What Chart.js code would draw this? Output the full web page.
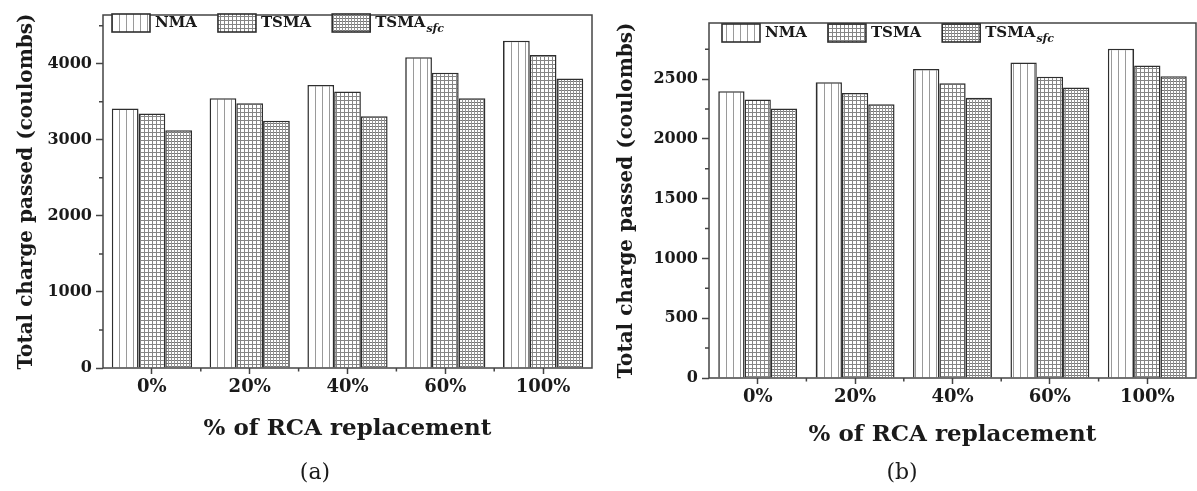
<!DOCTYPE html>
<html>
<head>
<meta charset="utf-8">
<script src="https://cdn.jsdelivr.net/npm/chart.js@4.4.0/dist/chart.umd.min.js"></script>
<style>
  body { margin: 0; background: #fff; }
  .panel { position: absolute; top: 0; height: 491px; }
  #panelA { left: 0; width: 600px; }
  #panelB { left: 600px; width: 597px; }
  .caption { position: absolute; top: 459px; font: 22px "DejaVu Serif", serif; color: #1a1a1a; transform: translateX(-50%); }
</style>
</head>
<body>
<div class="panel" id="panelA"><canvas id="chartA"></canvas></div>
<div class="panel" id="panelB"><canvas id="chartB"></canvas></div>
<div class="caption" style="left:315px">(a)</div>
<div class="caption" style="left:902px">(b)</div>
<script>
const categories = ['0%', '20%', '40%', '60%', '100%'];
const seriesNames = ['NMA', 'TSMA', 'TSMA'];
const seriesSub = ['', '', 'sfc'];

// panel (a)
const nmaA = [3410, 3545, 3720, 4085, 4300];
const tsmaA = [3345, 3480, 3635, 3880, 4115];
const sfcA = [3125, 3250, 3310, 3545, 3805];
const ticksA = [0, 1000, 2000, 3000, 4000];

// panel (b)
const nmaB = [2400, 2475, 2585, 2640, 2755];
const tsmaB = [2330, 2385, 2465, 2520, 2615];
const sfcB = [2255, 2290, 2345, 2430, 2525];
const ticksB = [0, 500, 1000, 1500, 2000, 2500];

const ink = '#1a1a1a';
const lineCol = '#444';
Chart.defaults.font.family = '"DejaVu Serif", serif';
Chart.defaults.color = ink;

// hatch fills for the three mixes
function tile(ctx, size, draw) {
  const c = document.createElement('canvas');
  c.width = size; c.height = size;
  const g = c.getContext('2d');
  g.fillStyle = '#fff';
  g.fillRect(0, 0, size, size);
  draw(g, size);
  return ctx.createPattern(c, 'repeat');
}
function fills(ctx) {
  return [
    tile(ctx, 7, (g, s) => { g.fillStyle = '#9a9a9a'; g.fillRect(0, 0, 1, s); }),
    tile(ctx, 4, (g, s) => { g.fillStyle = '#858585'; g.fillRect(0, 0, 1, s); g.fillRect(0, 0, s, 1); }),
    tile(ctx, 3, (g, s) => { g.fillStyle = '#747474'; g.fillRect(0, 0, s, 1); g.fillStyle = '#949494'; g.fillRect(0, 0, 1, s); })
  ];
}

// box around the plot plus the minor ticks
const frame = {
  id: 'frame',
  afterDatasetsDraw(chart) {
    const {ctx, chartArea: a} = chart;
    const x = chart.scales.x, y = chart.scales.y;
    ctx.save();
    ctx.strokeStyle = lineCol;
    ctx.lineWidth = 1.5;
    ctx.strokeRect(a.left, a.top, a.right - a.left, a.bottom - a.top);
    ctx.beginPath();
    const step = y.ticks[1].value - y.ticks[0].value;
    for (let v = step / 2; v < y.max; v += step) {
      const py = y.getPixelForValue(v);
      ctx.moveTo(a.left - 4, py);
      ctx.lineTo(a.left, py);
    }
    for (let i = 0; i < categories.length - 1; i++) {
      const px = (x.getPixelForValue(i) + x.getPixelForValue(i + 1)) / 2;
      ctx.moveTo(px, a.bottom);
      ctx.lineTo(px, a.bottom + 3.5);
    }
    ctx.stroke();
    ctx.restore();
  }
};

// legend row inside the top of the plot, with the subscript on TSMA_sfc
const hatchLegend = {
  id: 'hatchLegend',
  afterDraw(chart, args, o) {
    const {ctx, chartArea: a} = chart;
    const top = a.top + o.dy;
    let x = a.left + o.inset;
    ctx.save();
    ctx.textBaseline = 'middle';
    chart.data.datasets.forEach((ds, i) => {
      ctx.fillStyle = ds.backgroundColor;
      ctx.fillRect(x, top, 38, 18);
      ctx.strokeStyle = '#2e2e2e';
      ctx.lineWidth = 1.6;
      ctx.strokeRect(x, top, 38, 18);
      x += 38 + 5;
      ctx.fillStyle = ink;
      ctx.font = 'bold 15px "DejaVu Serif"';
      ctx.fillText(seriesNames[i], x, top + 9);
      x += ctx.measureText(seriesNames[i]).width;
      if (seriesSub[i]) {
        ctx.font = 'italic bold 11px "DejaVu Serif"';
        ctx.fillText(seriesSub[i], x + 1, top + 15);
        x += ctx.measureText(seriesSub[i]).width + 1;
      }
      x += 21;
    });
    ctx.restore();
  }
};

function build(id, series, yMax, yTicks, geo) {
  const ctx = document.getElementById(id).getContext('2d');
  const pats = fills(ctx);
  return new Chart(ctx, {
    type: 'bar',
    data: {
      labels: categories,
      datasets: series.map((d, i) => ({
        label: seriesNames[i] + seriesSub[i],
        data: d,
        backgroundColor: pats[i]
      }))
    },
    options: {
      responsive: true,
      maintainAspectRatio: false,
      animation: false,
      layout: { padding: { top: geo.top, right: geo.right, left: 0, bottom: 0 } },
      datasets: {
        bar: { categoryPercentage: geo.cat, barPercentage: 1, borderColor: '#2e2e2e', borderWidth: 1.5 }
      },
      plugins: {
        legend: { display: false },
        tooltip: { enabled: false },
        hatchLegend: { inset: geo.inset, dy: geo.legendDy }
      },
      scales: {
        x: {
          afterFit: s => { s.height = geo.xh; },
          border: { display: false },
          grid: { offset: false, drawOnChartArea: false, tickLength: 6, tickColor: lineCol, tickWidth: 1.5 },
          ticks: { font: { size: 18, weight: 'bold' }, color: ink, padding: 3, maxRotation: 0 },
          title: {
            display: true,
            text: '% of RCA replacement',
            font: { size: 23, weight: 'bold' },
            color: ink,
            padding: { top: 0, bottom: geo.titlePad }
          }
        },
        y: {
          min: 0,
          max: yMax,
          afterFit: s => { s.width = geo.yw; },
          afterBuildTicks: s => { s.ticks = yTicks.map(v => ({ value: v })); },
          border: { display: false },
          grid: { drawOnChartArea: false, tickLength: 7, tickColor: lineCol, tickWidth: 1.5 },
          ticks: { font: { size: 16, weight: 'bold' }, color: ink, padding: 4, callback: v => String(v) },
          title: {
            display: true,
            text: 'Total charge passed (coulombs)',
            font: { size: 20, weight: 'bold' },
            color: ink,
            padding: { top: 15, bottom: 0 }
          }
        }
      }
    },
    plugins: [frame, hatchLegend]
  });
}

build('chartA', [nmaA, tsmaA, sfcA], 4640, ticksA,
  { top: 15, right: 8, yw: 103, xh: 123, cat: 0.82, titlePad: 48, inset: 9, legendDy: -1 });
build('chartB', [nmaB, tsmaB, sfcB], 2970, ticksB,
  { top: 23, right: 1, yw: 109, xh: 113, cat: 0.81, titlePad: 42, inset: 13, legendDy: 1 });
</script>
</body>
</html>
